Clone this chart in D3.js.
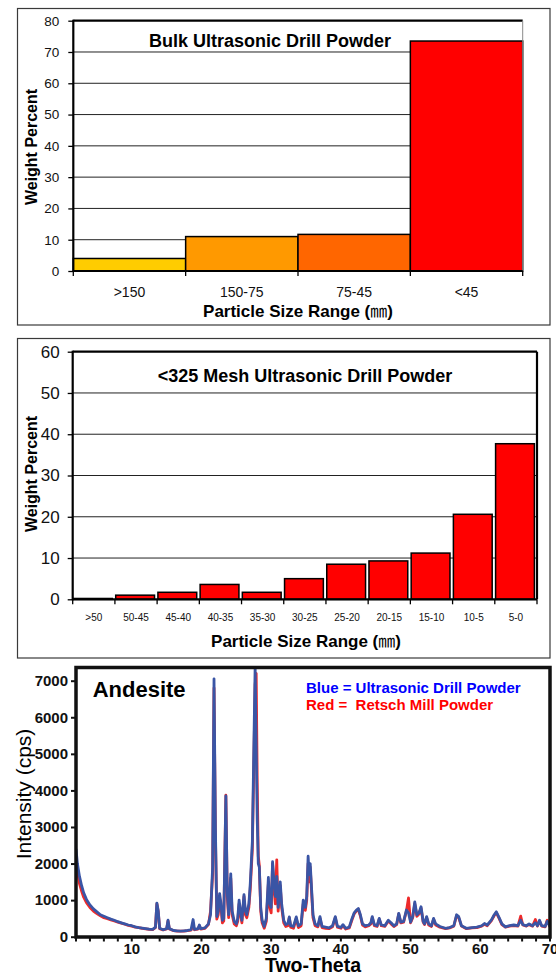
<!DOCTYPE html>
<html><head><meta charset="utf-8">
<script src="https://cdn.jsdelivr.net/npm/d3@7"></script>
<style>
body{margin:0;background:#fff}
svg{display:block}
text{font-family:"Liberation Sans",Arial,Helvetica,sans-serif}
</style>
</head><body>
<svg id="c" width="556" height="974"></svg>
<script>
// ---------- data ----------
const bulkCategories = [">150", "150-75", "75-45", "<45"];
const bulkValues = [4.0, 11.0, 11.7, 73.5];
const bulkColors = ["#FFCC00", "#FF9900", "#FF6600", "#FF0000"];
const bulkTicks = [0, 10, 20, 30, 40, 50, 60, 70, 80];

const meshCategories = [">50", "50-45", "45-40", "40-35", "35-30", "30-25", "25-20", "20-15", "15-10", "10-5", "5-0"];
const meshValues = [0.2, 1.0, 1.7, 3.6, 1.7, 5.0, 8.5, 9.3, 11.2, 20.6, 37.7];
const meshTicks = [0, 10, 20, 30, 40, 50, 60];

const twoTheta = [2.0,2.2,2.5,2.8,3.1,3.5,4.0,4.5,5.0,5.5,6.0,6.5,7.0,7.5,8.0,8.5,9.0,9.5,10.0,10.5,11.0,11.5,12.0,12.5,13.0,13.4,13.6,13.8,14.0,14.5,15.0,15.2,15.4,16.0,16.5,17.0,17.5,18.0,18.5,18.8,19.0,19.5,19.7,19.9,20.5,21.0,21.3,21.6,21.8,22.0,22.2,22.4,22.6,22.8,23.0,23.2,23.5,23.7,23.9,24.2,24.4,24.7,25.0,25.2,25.4,25.6,25.8,26.1,26.3,26.5,26.8,27.0,27.3,27.5,27.7,27.85,28.0,28.15,28.3,28.5,28.7,29.0,29.3,29.6,29.8,30.0,30.2,30.4,30.6,30.8,31.0,31.3,31.5,31.8,32.1,32.4,32.6,32.8,33.2,33.6,33.9,34.3,34.6,34.9,35.1,35.3,35.45,35.6,35.8,36.0,36.3,36.7,37.0,37.3,37.8,38.3,38.8,39.2,39.5,40.0,40.3,40.7,41.2,41.6,41.9,42.2,42.5,42.8,43.1,43.5,44.0,44.3,44.5,44.8,45.2,45.5,45.8,46.3,46.8,47.2,47.6,48.0,48.3,48.6,49.0,49.4,49.7,50.0,50.3,50.6,50.9,51.2,51.5,51.8,52.0,52.3,52.6,53.0,53.3,53.6,54.2,55.0,55.6,56.2,56.6,56.9,57.3,58.0,58.8,59.5,60.2,60.6,61.0,61.6,62.0,62.3,62.7,63.1,63.6,64.2,64.8,65.4,65.8,66.1,66.6,67.0,67.5,67.9,68.2,68.5,68.8,69.3,69.6,70.0];
const drillIntensity = [2400,2000,1650,1400,1200,1020,870,760,680,600,560,520,480,450,410,380,350,320,300,270,250,235,220,205,200,260,920,700,230,190,220,450,220,170,160,150,160,170,190,470,200,220,320,220,240,350,600,1900,7050,3000,550,700,1180,900,450,500,3850,1200,600,1720,700,420,350,500,1000,700,450,1150,700,600,900,1450,2600,5000,7400,5200,3200,2000,1900,800,450,280,500,1620,900,800,2050,1500,1100,1650,800,1500,900,450,330,360,540,300,280,540,300,350,1000,800,1100,2200,1700,2000,1300,600,350,300,550,280,260,240,300,550,290,250,330,230,260,500,650,720,770,600,350,300,320,380,550,330,300,500,320,300,450,380,300,350,640,400,420,730,650,400,550,950,600,650,820,420,350,550,350,300,500,350,280,230,250,300,600,550,300,230,250,260,300,360,320,460,600,680,520,350,270,300,320,300,450,330,300,350,300,380,300,450,300,280,420,280];
const millIntensity = [2050,1800,1450,1250,1080,930,800,700,630,570,520,490,460,430,400,370,340,310,290,260,250,230,215,200,195,250,900,680,220,185,210,430,210,165,155,150,155,165,180,300,190,210,300,210,230,330,700,1700,6800,2800,480,600,1050,800,380,430,3870,1100,520,1600,600,350,300,420,900,600,380,1100,600,520,800,1300,2400,4600,6900,7200,4200,2200,1950,700,380,230,420,1450,800,650,2000,1300,900,2100,700,1400,800,380,280,300,520,260,230,500,250,300,900,720,1000,2000,1500,1900,1200,520,300,270,500,250,230,220,270,520,260,230,300,210,240,460,620,700,750,560,320,270,300,350,520,300,280,480,300,280,430,350,280,330,620,380,400,700,1060,380,520,900,560,620,780,400,330,520,320,280,480,320,260,220,240,290,580,520,290,220,240,250,290,340,300,440,580,660,500,330,260,290,300,290,560,320,290,330,290,470,290,430,290,270,450,270];
const xrdXTicks = [10, 20, 30, 40, 50, 60, 70];
const xrdMinorTicks = d3.range(2, 71, 2);
const xrdYTicks = [0, 1000, 2000, 3000, 4000, 5000, 6000, 7000];

// ---------- helpers ----------
const svg = d3.select("#c");

function barChart(cfg) {
  const g = svg.append("g");
  g.append("rect").attr("x", cfg.panel[0]).attr("y", cfg.panel[1])
    .attr("width", cfg.panel[2] - cfg.panel[0]).attr("height", cfg.panel[3] - cfg.panel[1])
    .attr("fill", "#fff").attr("stroke", "#3a3a3a").attr("stroke-width", 1.2);

  const x = d3.scaleBand().domain(cfg.categories).range([cfg.plot[0], cfg.plot[2]]).padding(0);
  const y = d3.scaleLinear().domain([0, d3.max(cfg.ticks)]).range([cfg.plot[3], cfg.plot[1]]);

  g.append("g").selectAll("line").data(cfg.ticks.slice(1, -1)).join("line")
    .attr("x1", cfg.plot[0]).attr("x2", cfg.plot[2])
    .attr("y1", d => y(d)).attr("y2", d => y(d))
    .attr("stroke", "#222").attr("stroke-width", 1);

  g.append("g").selectAll("rect").data(cfg.values).join("rect")
    .attr("x", (d, i) => x(cfg.categories[i]) + cfg.barInset[0])
    .attr("width", x.bandwidth() - cfg.barInset[0] - cfg.barInset[1])
    .attr("y", d => y(d))
    .attr("height", d => y(0) - y(d))
    .attr("fill", (d, i) => cfg.colors[i])
    .attr("stroke", "#000").attr("stroke-width", 1.5);

  g.append("line").attr("x1", cfg.plot[0]).attr("x2", cfg.plot[2])
    .attr("y1", cfg.plot[1]).attr("y2", cfg.plot[1]).attr("stroke", "#000").attr("stroke-width", 2.2);
  g.append("line").attr("x1", cfg.plot[2]).attr("x2", cfg.plot[2])
    .attr("y1", cfg.plot[1]).attr("y2", cfg.plot[3]).attr("stroke", cfg.rightColor).attr("stroke-width", cfg.rightWidth);

  const ya = g.append("g").attr("transform", `translate(${cfg.plot[0]},0)`)
    .call(d3.axisLeft(y).tickValues(cfg.ticks).tickSize(5).tickPadding(cfg.yPad).tickSizeOuter(0));
  ya.select(".domain").remove();
  ya.selectAll(".tick line").attr("stroke", "#000").attr("stroke-width", 1.3);
  ya.selectAll(".tick text").attr("font-size", cfg.yFont).attr("fill", "#111")
    .style("font-family", '"Liberation Sans",Arial,sans-serif');
  g.append("line").attr("x1", cfg.plot[0]).attr("x2", cfg.plot[0])
    .attr("y1", cfg.plot[1] - 1).attr("y2", cfg.plot[3] + 1).attr("stroke", "#000").attr("stroke-width", 2.2);

  g.append("line").attr("x1", cfg.plot[0]).attr("x2", cfg.plot[2])
    .attr("y1", cfg.plot[3]).attr("y2", cfg.plot[3]).attr("stroke", "#000").attr("stroke-width", 2.2);
  const bounds = cfg.categories.map(c => x(c)).concat([cfg.plot[2]]);
  g.append("g").selectAll("line").data(bounds).join("line")
    .attr("x1", d => d).attr("x2", d => d)
    .attr("y1", cfg.plot[3]).attr("y2", cfg.plot[3] + 5)
    .attr("stroke", "#000").attr("stroke-width", 1.3);
  g.append("g").selectAll("text").data(cfg.categories).join("text")
    .attr("x", d => x(d) + x.bandwidth() / 2).attr("y", cfg.xLabelY)
    .attr("text-anchor", "middle").attr("font-size", cfg.xFont).attr("fill", "#111")
    .text(d => d);

  g.append("text").attr("x", cfg.titleX).attr("y", cfg.titleY).attr("text-anchor", "middle")
    .attr("font-size", 18).attr("font-weight", "bold").attr("fill", "#000").text(cfg.title);
  g.append("text").attr("transform", `translate(${cfg.yTitle[0]},${cfg.yTitle[1]}) rotate(-90)`)
    .attr("text-anchor", "middle").attr("font-size", 16).attr("font-weight", "bold").attr("fill", "#000")
    .text("Weight Percent");
  const xt = g.append("text").attr("x", cfg.xTitle[0]).attr("y", cfg.xTitle[1]).attr("text-anchor", "middle")
    .attr("font-size", 17).attr("font-weight", "bold").attr("fill", "#000");
  xt.append("tspan").text("Particle Size Range (");
  xt.append("tspan").style("font-family", '"Noto Sans CJK JP","Noto Sans CJK SC",sans-serif').attr("font-weight", "normal").text("㎜");
  xt.append("tspan").text(")");
}

barChart({
  panel: [17.5, 8.5, 550, 325],
  plot: [73.3, 20.7, 522.7, 271],
  categories: bulkCategories, values: bulkValues, colors: bulkColors, ticks: bulkTicks,
  barInset: [0, 0],
  rightColor: "#8a8a8a", rightWidth: 1,
  yFont: 13.5, yPad: 9, xFont: 14, xLabelY: 297,
  title: "Bulk Ultrasonic Drill Powder", titleX: 270, titleY: 47,
  yTitle: [36.5, 147], xTitle: [298, 317]
});

barChart({
  panel: [17.5, 338.5, 550, 658],
  plot: [72.7, 351.7, 537, 599.3],
  categories: meshCategories, values: meshValues, colors: meshValues.map(() => "#FF0000"), ticks: meshTicks,
  barInset: [0.8, 2.6],
  rightColor: "#000", rightWidth: 2.2,
  yFont: 17, yPad: 8, xFont: 10, xLabelY: 621,
  title: "<325 Mesh Ultrasonic Drill Powder", titleX: 305, titleY: 382,
  yTitle: [36.5, 474], xTitle: [306, 647]
});

// ---------- XRD chart ----------
(function () {
  const L = 76, R = 550, T = 667.5, B = 937;
  const x = d3.scaleLinear().domain([2, 70]).range([L, R]);
  const y = d3.scaleLinear().domain([0, 7000]).range([936.7, 680.7]);
  const g = svg.append("g");

  svg.append("defs").append("clipPath").attr("id", "xrdclip")
    .append("rect").attr("x", L).attr("y", T).attr("width", R - L).attr("height", B - T);

  const line = d3.line().x(d => x(d[0])).y(d => y(d[1]));
  const mill = twoTheta.map((t, i) => [t, millIntensity[i]]);
  const drill = twoTheta.map((t, i) => [t, drillIntensity[i]]);
  const lg = g.append("g").attr("clip-path", "url(#xrdclip)");
  lg.append("path").datum(mill).attr("d", line).attr("fill", "none")
    .attr("stroke", "#EE2A2A").attr("stroke-width", 2.8).attr("stroke-linejoin", "round");
  lg.append("path").datum(drill).attr("d", line).attr("fill", "none")
    .attr("stroke", "#3A55A5").attr("stroke-width", 2.8).attr("stroke-linejoin", "round");

  g.append("rect").attr("x", L).attr("y", T).attr("width", R - L).attr("height", B - T)
    .attr("fill", "none").attr("stroke", "#111").attr("stroke-width", 3.5);

  const ya = g.append("g").attr("transform", `translate(${L},0)`)
    .call(d3.axisLeft(y).tickValues(xrdYTicks).tickSize(5).tickPadding(3).tickFormat(d3.format("d")));
  ya.select(".domain").remove();
  ya.selectAll(".tick line").attr("stroke", "#111").attr("stroke-width", 2);
  ya.selectAll(".tick text").attr("font-size", 15).attr("font-weight", "bold").attr("fill", "#111")
    .style("font-family", '"Liberation Sans",Arial,sans-serif');

  g.append("g").selectAll("line").data(xrdMinorTicks).join("line")
    .attr("x1", d => x(d)).attr("x2", d => x(d))
    .attr("y1", B).attr("y2", B + 4.5).attr("stroke", "#111").attr("stroke-width", 2);
  g.append("g").selectAll("text").data(xrdXTicks).join("text")
    .attr("x", d => x(d)).attr("y", 954).attr("text-anchor", "middle")
    .attr("font-size", 15).attr("font-weight", "bold").attr("fill", "#111").text(d => d);

  g.append("text").attr("x", 313).attr("y", 972).attr("text-anchor", "middle")
    .attr("font-size", 19.5).attr("font-weight", "bold").attr("fill", "#000").text("Two-Theta");
  g.append("text").attr("transform", "translate(31,794) rotate(-90)").attr("text-anchor", "middle")
    .attr("font-size", 21).attr("fill", "#000").text("Intensity (cps)");

  g.append("text").attr("x", 92.7).attr("y", 697).attr("font-size", 22).attr("font-weight", "bold")
    .attr("fill", "#000").text("Andesite");
  g.append("text").attr("x", 306).attr("y", 693).attr("font-size", 15).attr("font-weight", "bold")
    .attr("fill", "#0000FF").text("Blue = Ultrasonic Drill Powder");
  g.append("text").attr("x", 306).attr("y", 709.5).attr("font-size", 15).attr("font-weight", "bold")
    .attr("fill", "#FF0000").style("white-space", "pre").text("Red =  Retsch Mill Powder");
})();
</script>
</body></html>
